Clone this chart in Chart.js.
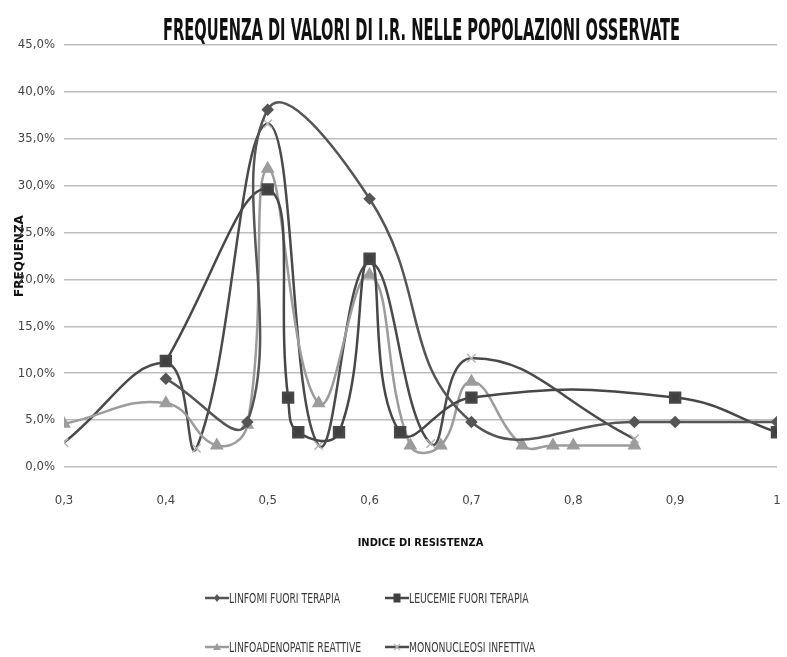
<!DOCTYPE html>
<html lang="it">
<head>
<meta charset="UTF-8">
<title>Frequenza di valori di I.R.</title>
<script src="https://cdn.jsdelivr.net/npm/chart.js"></script>
<style>
  html, body { margin: 0; padding: 0; background: #fff; }
  #wrap { position: relative; width: 787px; height: 657px; overflow: hidden; }
  #titolo { position: absolute; left: 0; top: 15px; margin: 0; white-space: nowrap;
            font-family: 'Liberation Sans Narrow', 'DejaVu Sans Condensed', sans-serif; font-weight: bold; font-size: 30px;
            line-height: 30px; color: #111; transform-origin: 0 0; }
  #legenda { position: absolute; left: 0; top: 0; font-family: 'Liberation Sans Narrow', 'DejaVu Sans Condensed', sans-serif; font-size: 14px; color: #3a3a3a; }
  .voce { position: absolute; display: flex; align-items: center; white-space: nowrap; height: 14px; }
  .voce span { display: inline-block; transform-origin: 0 50%; }
</style>
</head>
<body>
<div id="wrap">
  <canvas id="grafico" width="787" height="657"></canvas>
  <h1 id="titolo">FREQUENZA DI VALORI DI I.R. NELLE POPOLAZIONI OSSERVATE</h1>
  <div id="legenda"></div>
</div>
<script>
// dati (frequenza in %)
const linfomiX = [0.4, 0.48, 0.5, 0.6, 0.7, 0.86, 0.9, 1];
const linfomiY = [9.4, 4.8, 38.1, 28.6, 4.8, 4.8, 4.8, 4.8];

const leucemieX = [0.4, 0.5, 0.52, 0.53, 0.57, 0.6, 0.63, 0.7, 0.9, 1];
const leucemieY = [11.3, 29.6, 7.4, 3.7, 3.7, 22.2, 3.7, 7.4, 7.4, 3.7];

const linfoadX = [0.3, 0.4, 0.45, 0.48, 0.5, 0.55, 0.6, 0.64, 0.67, 0.7, 0.75, 0.78, 0.8, 0.86];
const linfoadY = [4.6, 6.8, 2.3, 4.5, 31.8, 6.8, 20.5, 2.3, 2.3, 9.1, 2.3, 2.3, 2.3, 2.3];

const mononuX = [0.3, 0.4, 0.43, 0.5, 0.55, 0.6, 0.66, 0.7, 0.86];
const mononuY = [2.6, 11.1, 2.0, 36.6, 2.3, 21.8, 2.5, 11.6, 3.0];

const nomiSerie = ['LINFOMI FUORI TERAPIA', 'LEUCEMIE FUORI TERAPIA', 'LINFOADENOPATIE REATTIVE', 'MONONUCLEOSI INFETTIVA'];

const font = "'Liberation Sans Narrow', 'DejaVu Sans Condensed', sans-serif";

function punti(xs, ys) {
    return xs.map(function (x, i) { return { x: x, y: ys[i] }; });
}

function virgola(v, dec) {
    return v.toFixed(dec).replace('.', ',');
}

const ctx = document.getElementById('grafico');
const grafico = new Chart(ctx, {
    type: 'line',
    data: {
        datasets: [{
            label: nomiSerie[0],
            data: punti(linfomiX, linfomiY),
            borderColor: '#555555',
            backgroundColor: '#555555',
            pointStyle: 'rectRot',
            pointRadius: 4.5,
            borderWidth: 2.5
        }, {
            label: nomiSerie[1],
            data: punti(leucemieX, leucemieY),
            borderColor: '#474747',
            backgroundColor: '#404040',
            pointStyle: 'rect',
            pointRadius: 7,
            borderWidth: 2.5
        }, {
            label: nomiSerie[2],
            data: punti(linfoadX, linfoadY),
            borderColor: '#9c9c9c',
            backgroundColor: '#9c9c9c',
            pointStyle: 'triangle',
            pointRadius: 5.5,
            borderWidth: 2.5
        }, {
            label: nomiSerie[3],
            data: punti(mononuX, mononuY),
            borderColor: '#4a4a4a',
            backgroundColor: '#b5b5b5',
            pointBorderColor: '#b5b5b5',
            pointStyle: 'crossRot',
            pointRadius: 6,
            pointBorderWidth: 1.5,
            borderWidth: 2.5
        }]
    },
    options: {
        responsive: false,
        animation: false,
        layout: { padding: { left: 0, right: 10, top: 45, bottom: 102 } },
        elements: { line: { tension: 0.45 } },
        plugins: {
            legend: { display: false },
            tooltip: { enabled: false }
        },
        scales: {
            x: {
                type: 'linear',
                min: 0.3,
                max: 1,
                // tacche invisibili: spostano le etichette in basso
                grid: { drawOnChartArea: false, tickLength: 26, tickColor: 'rgba(0,0,0,0)' },
                border: { display: false },
                ticks: {
                    stepSize: 0.1,
                    padding: 0,
                    color: '#444444',
                    font: { family: font, size: 13 },
                    callback: function (v) {
                        const r = Math.round(v * 10) / 10;
                        return r === 1 ? '1' : virgola(r, 1);
                    }
                },
                title: {
                    display: true,
                    text: 'INDICE DI RESISTENZA',
                    color: '#111111',
                    font: { family: font, size: 11, weight: 'bold' },
                    padding: { top: 0, bottom: 5 }
                },
                afterFit: function (scale) { scale.height = 88; }
            },
            y: {
                min: 0,
                max: 45,
                grid: { color: '#bdbdbd', lineWidth: 1.5, drawTicks: false },
                border: { display: false },
                ticks: {
                    stepSize: 5,
                    padding: 9,
                    color: '#444444',
                    font: { family: font, size: 13 },
                    callback: function (v) { return virgola(v, 1) + '%'; }
                },
                title: {
                    display: true,
                    text: 'FREQUENZA',
                    color: '#111111',
                    font: { family: "'DejaVu Sans', sans-serif", size: 12, weight: 'bold' },
                    padding: { top: 13, bottom: 0 }
                },
                afterFit: function (scale) { scale.width = 64; }
            }
        }
    }
});

// titolo stretto come nell'originale (larghezza 517px, centro a x=421)
const titolo = document.getElementById('titolo');
const largTitolo = titolo.getBoundingClientRect().width;
const scalaTitolo = 517 / largTitolo;
titolo.style.left = (421.5 - 517 / 2) + 'px';
titolo.style.transform = 'scaleX(' + scalaTitolo + ')';

// legenda in HTML: linea con il simbolo della serie
function disegnaCampione(c, ds) {
    const g = c.getContext('2d');
    const cx = c.width / 2, cy = c.height / 2;
    g.strokeStyle = ds.borderColor;
    g.lineWidth = 2.5;
    g.beginPath();
    g.moveTo(0, cy);
    g.lineTo(c.width, cy);
    g.stroke();
    g.fillStyle = ds.backgroundColor;
    g.strokeStyle = ds.pointBorderColor || ds.borderColor;
    g.lineWidth = 1.5;
    g.beginPath();
    if (ds.pointStyle === 'rectRot') {
        g.moveTo(cx, cy - 4); g.lineTo(cx + 3, cy); g.lineTo(cx, cy + 4); g.lineTo(cx - 3, cy); g.closePath(); g.fill();
    } else if (ds.pointStyle === 'rect') {
        g.fillRect(cx - 3.5, cy - 4.5, 7, 9);
    } else if (ds.pointStyle === 'triangle') {
        g.moveTo(cx, cy - 4); g.lineTo(cx + 4, cy + 3); g.lineTo(cx - 4, cy + 3); g.closePath(); g.fill();
    } else {
        g.moveTo(cx - 3, cy - 3); g.lineTo(cx + 3, cy + 3); g.moveTo(cx + 3, cy - 3); g.lineTo(cx - 3, cy + 3); g.stroke();
    }
}

const posizioni = [[205, 598], [385, 598], [205, 647], [385, 647]];
const legenda = document.getElementById('legenda');
const testi = [];
grafico.data.datasets.forEach(function (ds, i) {
    const voce = document.createElement('div');
    voce.className = 'voce';
    voce.style.left = posizioni[i][0] + 'px';
    voce.style.top = (posizioni[i][1] - 7) + 'px';
    const c = document.createElement('canvas');
    c.width = 24; c.height = 12;
    disegnaCampione(c, ds);
    voce.appendChild(c);
    const t = document.createElement('span');
    t.textContent = ds.label;
    voce.appendChild(t);
    legenda.appendChild(voce);
    testi.push(t);
});
// testo della legenda stretto: "LINFOMI FUORI TERAPIA" largo 111px
const scalaLeg = 111 / testi[0].getBoundingClientRect().width;
testi.forEach(function (t) { t.style.transform = 'scaleX(' + scalaLeg + ')'; });
</script>
</body>
</html>
